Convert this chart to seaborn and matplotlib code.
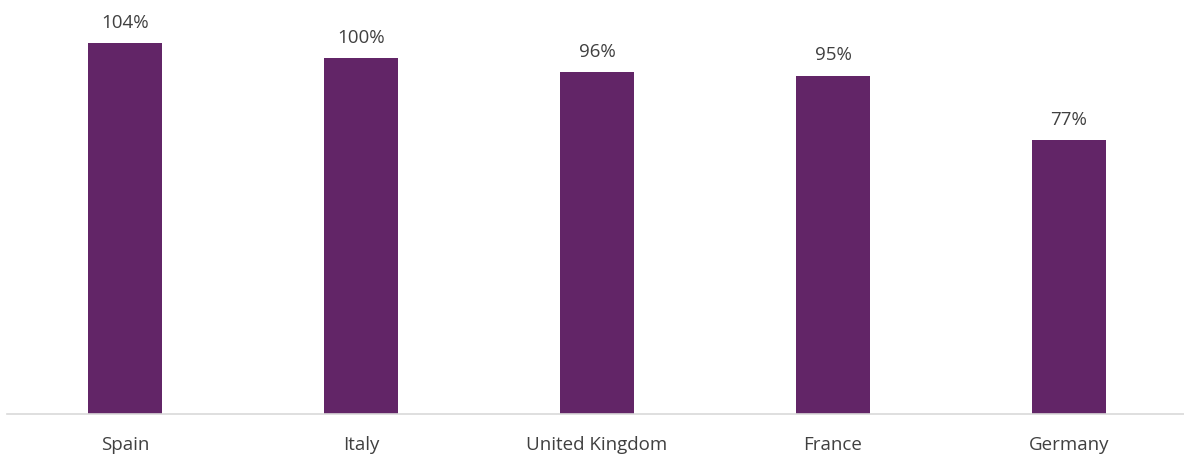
import matplotlib
matplotlib.use("Agg")
import matplotlib.pyplot as plt
import seaborn as sns
import pandas as pd

countries = ["Spain", "Italy", "United Kingdom", "France", "Germany"]
values = [104, 100, 96, 95, 77]
labels = ["104%", "100%", "96%", "95%", "77%"]

sns.set_style("white")
plt.rcParams["font.family"] = ["Open Sans", "DejaVu Sans"]

fig = plt.figure(figsize=(11.84, 4.59), dpi=100)
ax = fig.add_axes([7 / 1184, (459 - 414) / 459, 1180 / 1184, 414 / 459])

df = pd.DataFrame({"country": countries, "value": values})
sns.barplot(data=df, x="country", y="value", color="#622567", saturation=1,
            width=0.314, ax=ax, edgecolor="none")

for i, (v, lab) in enumerate(zip(values, labels)):
    ax.annotate(lab, (i, v), xytext=(0, 8), textcoords="offset points",
                ha="center", va="bottom", fontsize=13.5, color="#404040")

ax.set_xlim(-0.5, 4.5)
ax.set_ylim(0, 116.2)
ax.set_xlabel("")
ax.set_ylabel("")
ax.set_yticks([])
for s in ["top", "right", "left"]:
    ax.spines[s].set_visible(False)
ax.spines["bottom"].set_color("#d9d9d9")
ax.spines["bottom"].set_linewidth(1.2)
ax.tick_params(axis="x", length=0, pad=15.5, labelsize=13.5, labelcolor="#404040")

fig.savefig("out.png", dpi=100)
